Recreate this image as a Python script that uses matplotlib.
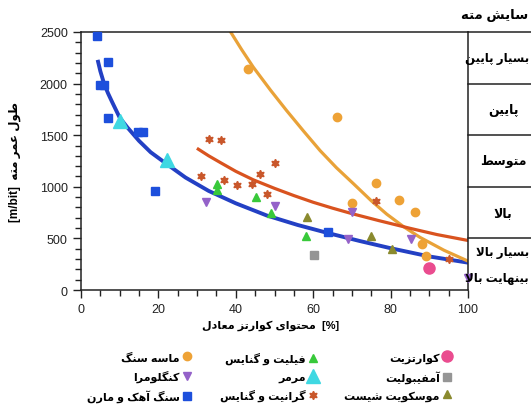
import matplotlib
matplotlib.use("Agg")
import matplotlib.pyplot as plt
from matplotlib.ticker import MultipleLocator

plt.rcParams['font.family'] = ['Liberation Sans', 'DejaVu Sans']

# --- minimal Persian shaping (matplotlib has no bidi / joining) ---
FORMS = {
    'ا': ('\uFE8D', '\uFE8E', None, None), 'آ': ('\uFE81', '\uFE82', None, None),
    'ب': ('\uFE8F', '\uFE90', '\uFE91', '\uFE92'), 'پ': ('\uFB56', '\uFB57', '\uFB58', '\uFB59'),
    'ت': ('\uFE95', '\uFE96', '\uFE97', '\uFE98'), 'ج': ('\uFE9D', '\uFE9E', '\uFE9F', '\uFEA0'),
    'ح': ('\uFEA1', '\uFEA2', '\uFEA3', '\uFEA4'), 'د': ('\uFEA9', '\uFEAA', None, None),
    'ر': ('\uFEAD', '\uFEAE', None, None), 'ز': ('\uFEAF', '\uFEB0', None, None),
    'س': ('\uFEB1', '\uFEB2', '\uFEB3', '\uFEB4'), 'ش': ('\uFEB5', '\uFEB6', '\uFEB7', '\uFEB8'),
    'ط': ('\uFEC1', '\uFEC2', '\uFEC3', '\uFEC4'), 'ع': ('\uFEC9', '\uFECA', '\uFECB', '\uFECC'),
    'ف': ('\uFED1', '\uFED2', '\uFED3', '\uFED4'), 'ک': ('\uFB8E', '\uFB8F', '\uFB90', '\uFB91'),
    'گ': ('\uFB92', '\uFB93', '\uFB94', '\uFB95'), 'ل': ('\uFEDD', '\uFEDE', '\uFEDF', '\uFEE0'),
    'م': ('\uFEE1', '\uFEE2', '\uFEE3', '\uFEE4'), 'ن': ('\uFEE5', '\uFEE6', '\uFEE7', '\uFEE8'),
    'ه': ('\uFEE9', '\uFEEA', '\uFEEB', '\uFEEC'), 'و': ('\uFEED', '\uFEEE', None, None),
    'ی': ('\uFBFC', '\uFBFD', '\uFBFE', '\uFBFF'),
}


def fa(text):
    out = []
    i = 0
    n = len(text)
    while i < n:
        c = text[i]
        if c not in FORMS:
            out.append(c)
            i += 1
            continue
        prev = text[i - 1] if i > 0 else ''
        joins_prev = prev in FORMS and FORMS[prev][2] is not None
        if c == 'ل' and i + 1 < n and text[i + 1] in 'اآ':
            lig = {'ا': ('\uFEFB', '\uFEFC'), 'آ': ('\uFEF5', '\uFEF6')}[text[i + 1]]
            out.append(lig[1] if joins_prev else lig[0])
            i += 2
            continue
        nxt = text[i + 1] if i + 1 < n else ''
        joins_next = FORMS[c][2] is not None and nxt in FORMS
        iso, fin, ini, med = FORMS[c]
        if joins_prev and joins_next:
            out.append(med)
        elif joins_prev:
            out.append(fin)
        elif joins_next:
            out.append(ini)
        else:
            out.append(iso)
        i += 1
    return ''.join(out)[::-1]


# --- data ---
sandstone_x = [43.1, 66.1, 76.1, 70.1, 82.2, 86.3, 88.2, 89.1]
sandstone_y = [2140, 1680, 1040, 840, 870, 755, 445, 325]
conglomerate_x = [32.2, 50.1, 70.1, 69.1, 85.2, 100]
conglomerate_y = [850, 815, 755, 490, 490, 115]
limestone_x = [4.1, 7.1, 4.9, 6.0, 7.1, 14.8, 16.1, 19.1, 63.9]
limestone_y = [2460, 2205, 1990, 1990, 1665, 1535, 1535, 960, 560]
phyllite_x = [35.2, 35.2, 45.1, 49.1, 58.1]
phyllite_y = [1030, 970, 900, 745, 525]
marble_x = [10.1, 22.1]
marble_y = [1640, 1255]
granite_x = [33.1, 36.2, 31.0, 37.0, 40.2, 44.1, 46.2, 50.1, 48.1, 76.1, 95.2]
granite_y = [1460, 1450, 1105, 1065, 1015, 1025, 1125, 1235, 930, 865, 300]
quartzite_x = [90.0]
quartzite_y = [213]
amphibolite_x = [60.2]
amphibolite_y = [340]
schist_x = [58.3, 74.9, 80.3]
schist_y = [705, 525, 400]

# trend lines
blue_fit_x = [4.3, 5, 6, 7, 8, 10, 12, 15, 18, 22, 27, 33, 40, 48, 56, 64, 72, 80, 90, 100]
blue_fit_y = [2230, 2120, 1995, 1905, 1825, 1670, 1575, 1445, 1335, 1225, 1090, 960, 840,
              722, 630, 550, 475, 405, 325, 265]
orange_fit_x = [38.5, 41.5, 44.5, 49, 53.1, 57.5, 61.8, 66, 70.4, 75, 79, 83.3, 87.6, 93.8, 100]
orange_fit_y = [2510, 2330, 2160, 1935, 1740, 1540, 1350, 1185, 1030, 865, 735, 615, 510, 385, 280]
red_fit_x = [30.3, 33, 36, 40, 44.5, 50, 55, 60, 65, 70, 77, 85, 92, 100]
red_fit_y = [1365, 1300, 1235, 1150, 1068, 985, 915, 850, 793, 740, 672, 598, 537, 480]

wear_edges = [2500, 2000, 1500, 1000, 500]
wear_labels = ['بسیار پایین', 'پایین', 'متوسط', 'بالا', 'بسیار بالا', 'بینهایت بالا']
wear_label_y = [2250, 1750, 1250, 750, 370, 120]

fig = plt.figure(figsize=(5.31, 4.14), dpi=100)
ax = fig.add_axes([81 / 531, 1 - 291 / 414, 387 / 531, 258 / 414])

ax.plot(blue_fit_x, blue_fit_y, color='#2340c4', lw=2.8, zorder=2, solid_capstyle='butt')
ax.plot(orange_fit_x, orange_fit_y, color='#e9a238', lw=2.3, zorder=2)
ax.plot(red_fit_x, red_fit_y, color='#d9531f', lw=2.3, zorder=2)

kw = dict(linestyle='none', zorder=3, clip_on=False)
h_sand, = ax.plot(sandstone_x, sandstone_y, 'o', color='#eea236', ms=6, label=fa('ماسه سنگ'), **kw)
h_cong, = ax.plot(conglomerate_x, conglomerate_y, 'v', color='#9462c9', ms=6, label=fa('کنگلومرا'), **kw)
h_lime, = ax.plot(limestone_x, limestone_y, 's', color='#1d4fdc', ms=6, label=fa('سنگ آهک و مارن'), **kw)
h_phyl, = ax.plot(phyllite_x, phyllite_y, '^', color='#38c93a', ms=6, label=fa('فیلیت و گنایس'), **kw)
h_marb, = ax.plot(marble_x, marble_y, '^', color='#3fd8e2', ms=9.5, label=fa('مرمر'), **kw)
h_gran, = ax.plot(granite_x, granite_y, marker=(6, 1, 0), color='#c9572b', ms=6, label=fa('گرانیت و گنایس'), **kw)
h_quar, = ax.plot(quartzite_x, quartzite_y, 'o', color='#ea4c8f', ms=8, label=fa('کوارتزیت'), **kw)
h_amph, = ax.plot(amphibolite_x, amphibolite_y, 's', color='#959595', ms=5.5, label=fa('آمفیبولیت'), **kw)
h_schi, = ax.plot(schist_x, schist_y, '^', color='#8a8a2e', ms=6, label=fa('موسکویت شیست'), **kw)

ax.set_xlim(0, 100)
ax.set_ylim(0, 2500)
ax.xaxis.set_major_locator(MultipleLocator(20))
ax.xaxis.set_minor_locator(MultipleLocator(5))
ax.yaxis.set_major_locator(MultipleLocator(500))
ax.yaxis.set_minor_locator(MultipleLocator(100))
ax.tick_params(which='both', direction='out', colors='#222222', labelsize=9)
ax.tick_params(which='major', length=6, width=1)
ax.tick_params(which='minor', length=4, width=1)
for s in ax.spines.values():
    s.set_color('#222222')
    s.set_linewidth(1.1)

ax.set_xlabel(fa('محتوای کوارتز معادل') + '  [%]', fontsize=8, fontweight='bold')
ax.xaxis.set_label_coords(0.49, -0.115)
ax.set_ylabel('[m/bit]  ' + fa('طول عمر مته'), fontsize=8.5, fontweight='bold')
ax.yaxis.set_label_coords(-0.155, 0.5)

# wear class table on the right
ytr = ax.get_yaxis_transform()
x_end = (531 - 81) / 387
for v in wear_edges:
    ax.plot([1, x_end], [v, v], transform=ytr, clip_on=False, color='#222222', lw=1.1)
for lab, yv in zip(wear_labels, wear_label_y):
    if len(lab) > 8:
        ax.text((529 - 81) / 387, yv, fa(lab), transform=ytr, ha='right', va='center',
                fontsize=8.5, fontweight='bold', clip_on=False)
    else:
        ax.text((503 - 81) / 387, yv, fa(lab), transform=ytr, ha='center', va='center',
                fontsize=9, fontweight='bold', clip_on=False)
fig.text(0.994, 0.962, fa('سایش مته'), ha='right', va='center', fontsize=9.5, fontweight='bold')

# legend: three right-to-left columns
columns = [([h_sand, h_cong, h_lime], 203), ([h_phyl, h_marb, h_gran], 329), ([h_quar, h_amph, h_schi], 463)]
for hs, right_px in columns:
    fig.legend(handles=hs, labels=[h.get_label() for h in hs], loc='upper right',
               bbox_to_anchor=(right_px / 531, 1 - 343 / 414), markerfirst=False,
               frameon=False, prop=dict(weight='bold', size=8),
               handletextpad=0.2, labelspacing=0.65, handlelength=1.0)

fig.savefig('out.png', dpi=100)
